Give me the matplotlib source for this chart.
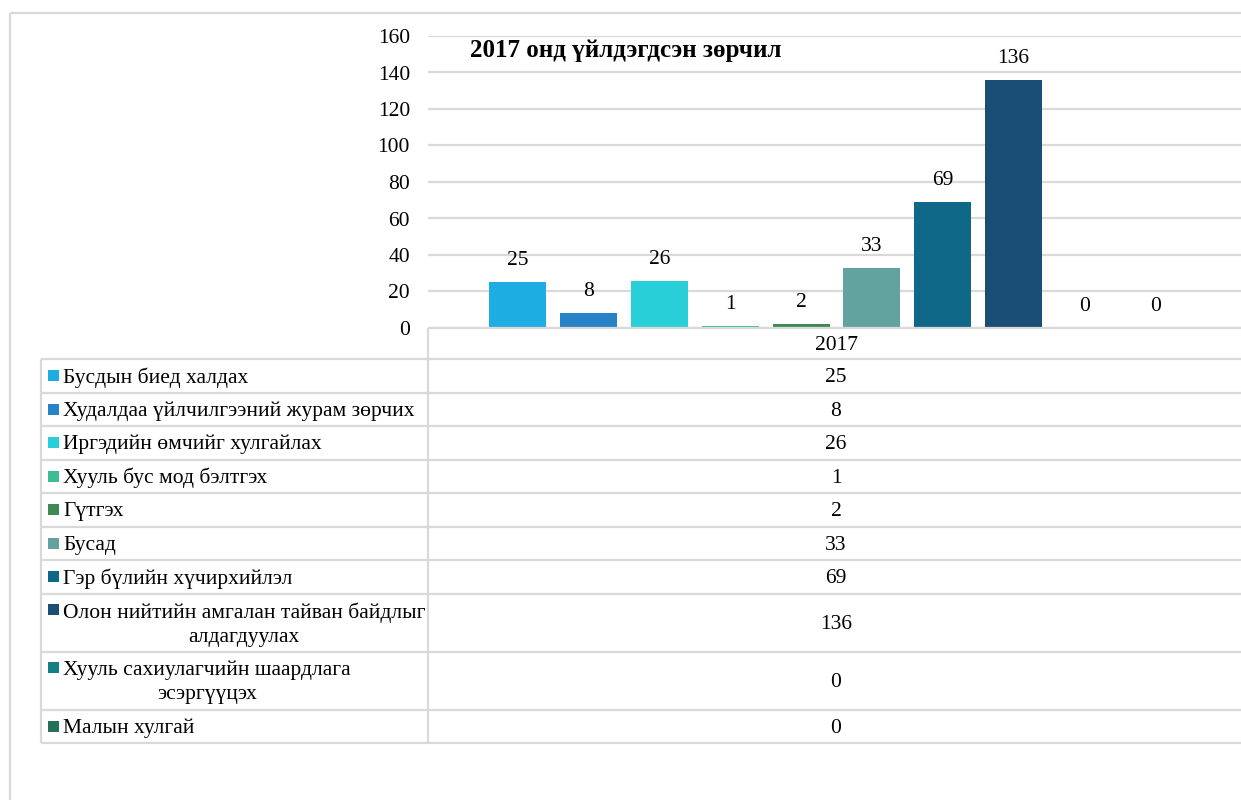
import numpy as np
import matplotlib.pyplot as plt

plt.rcParams['font.family'] = ['Liberation Serif', 'DejaVu Serif']

# data
title = '2017 онд үйлдэгдсэн зөрчил'
year = '2017'
categories = [
    'Бусдын биед халдах',
    'Худалдаа үйлчилгээний журам зөрчих',
    'Иргэдийн өмчийг хулгайлах',
    'Хууль бус мод бэлтгэх',
    'Гүтгэх',
    'Бусад',
    'Гэр бүлийн хүчирхийлэл',
    'Олон нийтийн амгалан тайван байдлыг\nалдагдуулах',
    'Хууль сахиулагчийн шаардлага\nэсэргүүцэх',
    'Малын хулгай',
]
values = [25, 8, 26, 1, 2, 33, 69, 136, 0, 0]
colors = ['#1EADE3', '#2782C8', '#28CED8', '#3FBC97', '#3E8A55',
          '#63A39F', '#106889', '#1A4E77', '#167F86', '#25705A']
yticks = [0, 20, 40, 60, 80, 100, 120, 140, 160]

W, H = 1241, 800
grid_c = '#D9D9D9'
fs = 15.5

fig = plt.figure(figsize=(W / 100, H / 100), dpi=100)

# bar chart
ax = fig.add_axes([428 / W, 1 - 328 / H, (W - 428) / W, (328 - 36) / H])
x = np.arange(len(values))
ax.bar(x, values, width=0.805, color=colors, zorder=3)
for xi, v in zip(x, values):
    ax.annotate(str(v), (xi, v), xytext=(0, 15.5), textcoords='offset points',
                ha='center', va='center', fontsize=fs)
ax.set_xlim(-1.27, (1241 - 518) / 70.8)
ax.set_ylim(0, 160)
ax.set_yticks(yticks)
ax.set_xticks([])
ax.grid(axis='y', color=grid_c, lw=1.6, zorder=0)
for s in ax.spines.values():
    s.set_visible(False)
ax.tick_params(axis='y', length=0, labelsize=fs, pad=13)

fig.text(470 / W, 1 - 50 / H, title, fontsize=18, fontweight='bold', va='center')

# table and frame drawn in pixel coordinates
ov = fig.add_axes([0, 0, 1, 1])
ov.set_xlim(0, W)
ov.set_ylim(H, 0)
ov.axis('off')
ov.patch.set_visible(False)

def hline(x0, x1, y):
    ov.plot([x0, x1], [y, y], color=grid_c, lw=1.6, solid_capstyle='butt')

def vline(x0, y0, y1):
    ov.plot([x0, x0], [y0, y1], color=grid_c, lw=1.6, solid_capstyle='butt')

# outer frame
hline(10, W, 13)
vline(10, 13, H)

left, split, valx = 41, 428, 836
top = 328
hline(split, W, top)
ov.text(valx, 346, year, ha='center', va='center', fontsize=fs)
y = 359
hline(left, W, y)
rows_top = y
for cat, v, c in zip(categories, values, colors):
    h = 58 if '\n' in cat else 33.5
    cy = y + h / 2
    first = cy - 13 if '\n' in cat else cy
    ov.add_patch(plt.Rectangle((48, first - 5.5), 10.5, 11, color=c, lw=0))
    ov.text(63, cy + 2, cat, ha='left', va='center', multialignment='center',
            fontsize=fs, linespacing=1.38)
    ov.text(valx, cy + 2, str(v), ha='center', va='center', fontsize=fs)
    y += h
    hline(left, W, y)
vline(left, rows_top, y)
vline(split, top, y)

fig.savefig('out.png', dpi=100)
